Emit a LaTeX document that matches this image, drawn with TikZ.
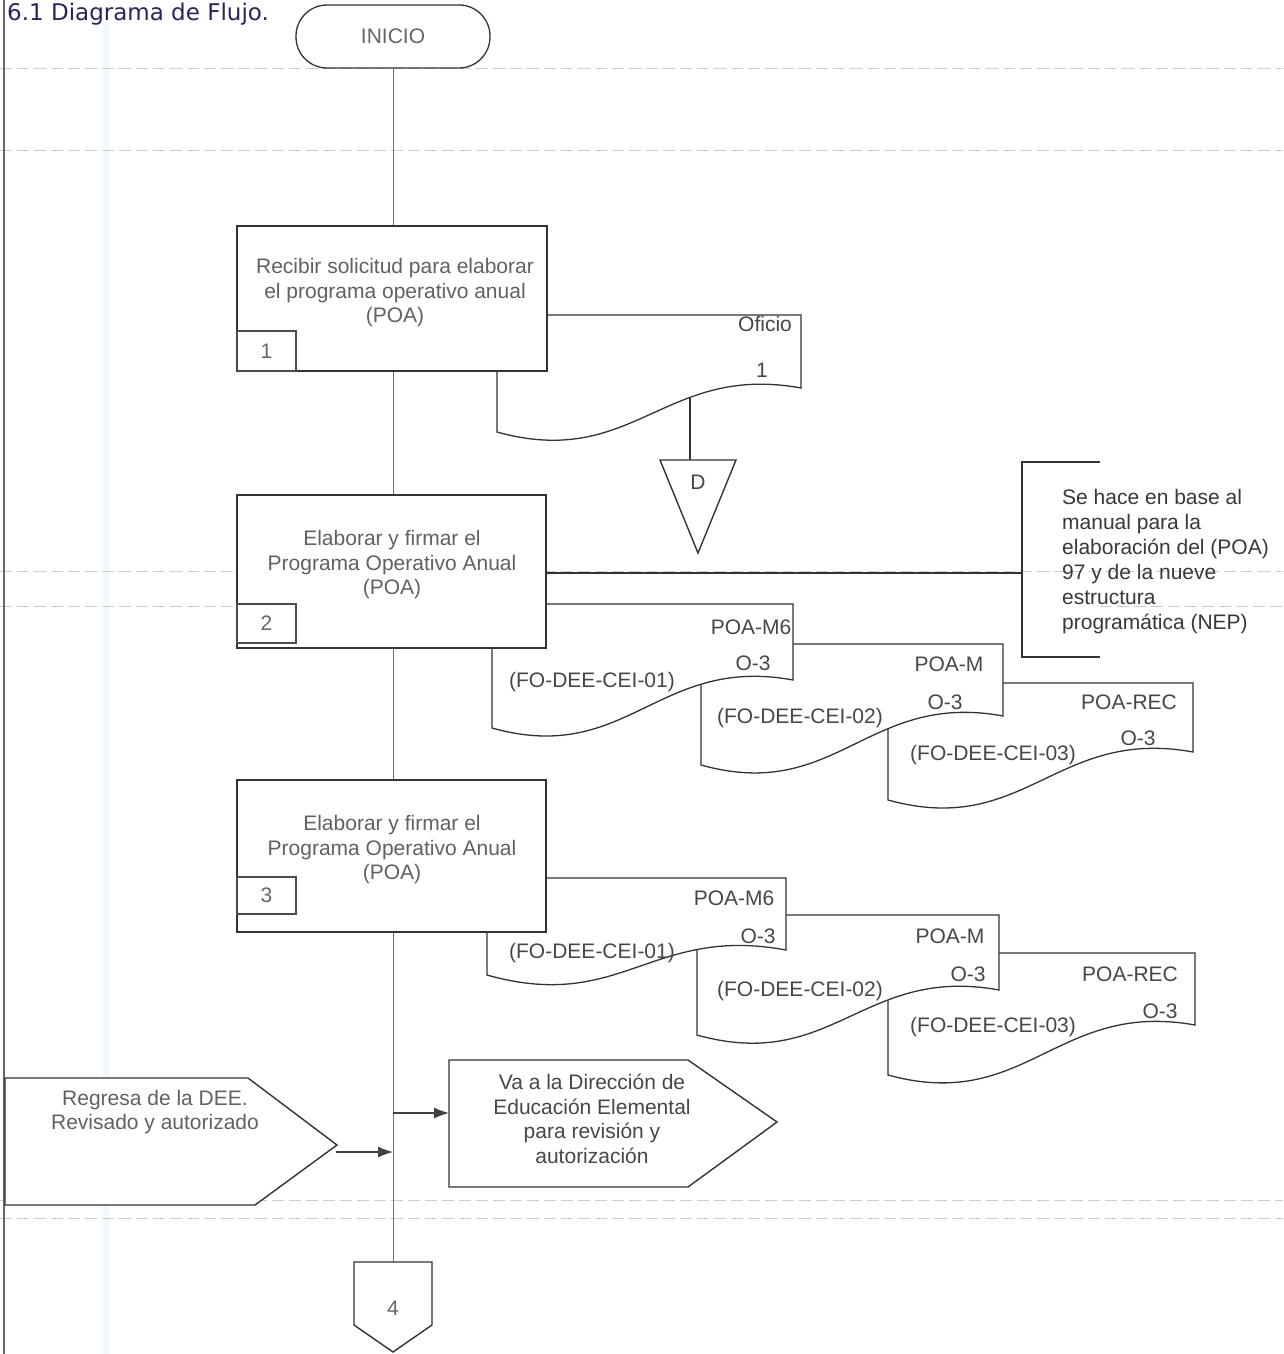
\documentclass[tikz,border=0pt]{standalone}
\usepackage{fontspec}
\setmainfont{Liberation Sans}
\newfontfamily\titlefont{DejaVu Sans}
\usetikzlibrary{arrows.meta}
\newcommand\docshape[5]{% L top R rb lb
  \pgfmathsetmacro\dw{#3-#1}
  \pgfmathsetmacro\cax{#3-0.45*\dw}
  \pgfmathsetmacro\cay{#4-25}
  \pgfmathsetmacro\cbx{#1+0.45*\dw}
  \pgfmathsetmacro\cby{#5+38}
  \draw[docst] (#1,#5) -- (#1,#2) -- (#3,#2) -- (#3,#4) .. controls (\cax,\cay) and (\cbx,\cby) .. (#1,#5) -- cycle;}
\begin{document}
\begin{tikzpicture}[x=1pt,y=-1pt,
  every node/.style={font=\fontsize{21}{24.5}\selectfont, inner sep=0pt},
  flow/.style={draw=black!55, line width=1pt},
  procbox/.style={rectangle, draw=black!80, line width=1.4pt, fill=white},
  numbox/.style={rectangle, draw=black!70, line width=1.1pt, fill=white, text=black!60},
  boxtxt/.style={align=center, text=black!62},
  doctxt/.style={text=black!72},
  docst/.style={draw=black!80, line width=1.3pt, fill=white},
  shp/.style={draw=black!80, line width=1.4pt, fill=white},
  ghost/.style={draw=black!20, line width=0.8pt, dash pattern=on 12pt off 5pt},
  arr/.style={-{Latex[length=15pt,width=11pt]}, draw=black!75, line width=1.2pt},
]
\useasboundingbox (0,0) rectangle (1283,1354);
\fill[white] (0,0) rectangle (1283,1354);
% scan artefacts
\fill[cyan!7] (103,24) rectangle (109,1354);
\draw[ghost] (0,68) -- (1283,68);
\draw[ghost] (0,150) -- (1283,150);
\draw[ghost] (0,571) -- (1283,571);
\draw[ghost] (0,606) -- (237,606);
\draw[ghost] (1100,606) -- (1283,606);
\draw[ghost] (0,1200) -- (1283,1200);
\draw[ghost] (0,1218) -- (1283,1218);
% left border
\draw[line width=1.3pt, black!60] (4,0) -- (4,1354);
% title
\node[anchor=base west, font=\titlefont\fontsize{23}{26}\selectfont, text=black!70!blue!70!gray] (title) at (7,21) {6.1 Diagrama de Flujo.};

% terminal
\node[draw=black!80, line width=1.3pt, fill=white, rounded corners=31pt, minimum width=194pt, minimum height=63pt, text=black!60] (ini) at (393,36.5) {INICIO};
% connector 4
\coordinate (c4) at (393,1262);
% main flow line
\draw[flow] (ini.south) -- (c4);
\coordinate (m1) at (393,1113);
\coordinate (m2) at (393,1152);

% ---- Step 1
\docshape{497}{315}{801}{388}{432}
\node[doctxt] (ofi) at (765,324) {Oficio};
\node[doctxt] (ofn) at (762,370) {1};
\coordinate (ofw) at (690,398);
\coordinate (trtop) at (690,460);
\draw[draw=black!80, line width=1.2pt] (ofw) -- (trtop);
\draw[shp] (660,460) -- (736,460) -- (698,553) -- cycle;
\node[doctxt] (trd) at (698,482) {D};

\node[procbox, minimum width=310pt, minimum height=145pt] (b1) at (392,298.5) {};
\node[boxtxt] (t1) at (395,293) {Recibir solicitud para elaborar\\el programa operativo anual\\(POA)};
\node[numbox, minimum width=59pt, minimum height=40pt] (n1) at (266.5,351) {1};

% ---- Step 2
\docshape{888}{683}{1193}{752}{800}
\docshape{701}{644}{1003}{716}{765}
\docshape{492}{604}{793}{680}{728}
\node[doctxt] at (1129,702) {POA-REC};
\node[doctxt] at (1138,738) {O-3};
\node[doctxt] at (993,755) {(FO-DEE-CEI-03)};
\node[doctxt] at (949,664) {POA-M};
\node[doctxt] at (945,702) {O-3};
\node[doctxt] at (800,718) {(FO-DEE-CEI-02)};
\node[doctxt] at (751,627) {POA-M6};
\node[doctxt] at (753,663) {O-3};
\node[doctxt] at (592,682) {(FO-DEE-CEI-01)};

\node[procbox, minimum width=309pt, minimum height=153pt] (b2) at (391.5,571.5) {};
\node[boxtxt] (t2) at (392,565) {Elaborar y firmar el\\Programa Operativo Anual\\(POA)};
\node[numbox, minimum width=59pt, minimum height=39pt] (n2) at (266.5,623.5) {2};

% annotation
\node[anchor=west, align=left, text=black!78, font=\fontsize{21}{25}\selectfont] (ann) at (1062,562) {Se hace en base al\\manual para la\\elaboración del (POA)\\97 y de la nueve\\estructura\\programática (NEP)};
\draw[draw=black!80, line width=1.3pt] (1100,462) -- (1022,462) -- (1022,657) -- (1100,657);
\coordinate (brk) at (1022,573);
\draw[draw=black!80, line width=1.3pt] (b2.east |- brk) -- (brk);

% ---- Step 3
\docshape{888}{953}{1195}{1025}{1075}
\docshape{697}{915}{999}{990}{1035}
\docshape{487}{878}{786}{950}{975}
\node[doctxt] at (1130,974) {POA-REC};
\node[doctxt] at (1160,1011) {O-3};
\node[doctxt] at (993,1027) {(FO-DEE-CEI-03)};
\node[doctxt] at (950,936) {POA-M};
\node[doctxt] at (968,974) {O-3};
\node[doctxt] at (800,991) {(FO-DEE-CEI-02)};
\node[doctxt] at (734,898) {POA-M6};
\node[doctxt] at (758,936) {O-3};
\node[doctxt] at (592,953) {(FO-DEE-CEI-01)};

\node[procbox, minimum width=309pt, minimum height=152pt] (b3) at (391.5,856) {};
\node[boxtxt] (t3) at (392,850) {Elaborar y firmar el\\Programa Operativo Anual\\(POA)};
\node[numbox, minimum width=59pt, minimum height=37pt] (n3) at (266.5,895.5) {3};

% ---- off-page shapes
\draw[shp] (449,1060) -- (688,1060) -- (777,1122) -- (688,1187) -- (449,1187) -- cycle;
\coordinate (vaw) at (449,1113);
\node[align=center, text=black!72] (va) at (592,1119) {Va a la Dirección de\\Educación Elemental\\para revisión y\\autorización};
\draw[arr] (m1) -- (vaw);

\draw[shp] (5,1078) -- (248,1078) -- (337,1145) -- (255,1205) -- (5,1205) -- cycle;
\coordinate (rgtip) at (336,1152);
\node[align=center, text=black!62] (rg) at (155,1112) {Regresa de la DEE.\\Revisado y autorizado};
\draw[arr] (rgtip) -- (m2);

% connector 4
\draw[shp] (354,1262) -- (432,1262) -- (432,1325) -- (393,1352) -- (354,1325) -- cycle;
\node[text=black!60] (n4) at (393,1308) {4};
\end{tikzpicture}
\end{document}
